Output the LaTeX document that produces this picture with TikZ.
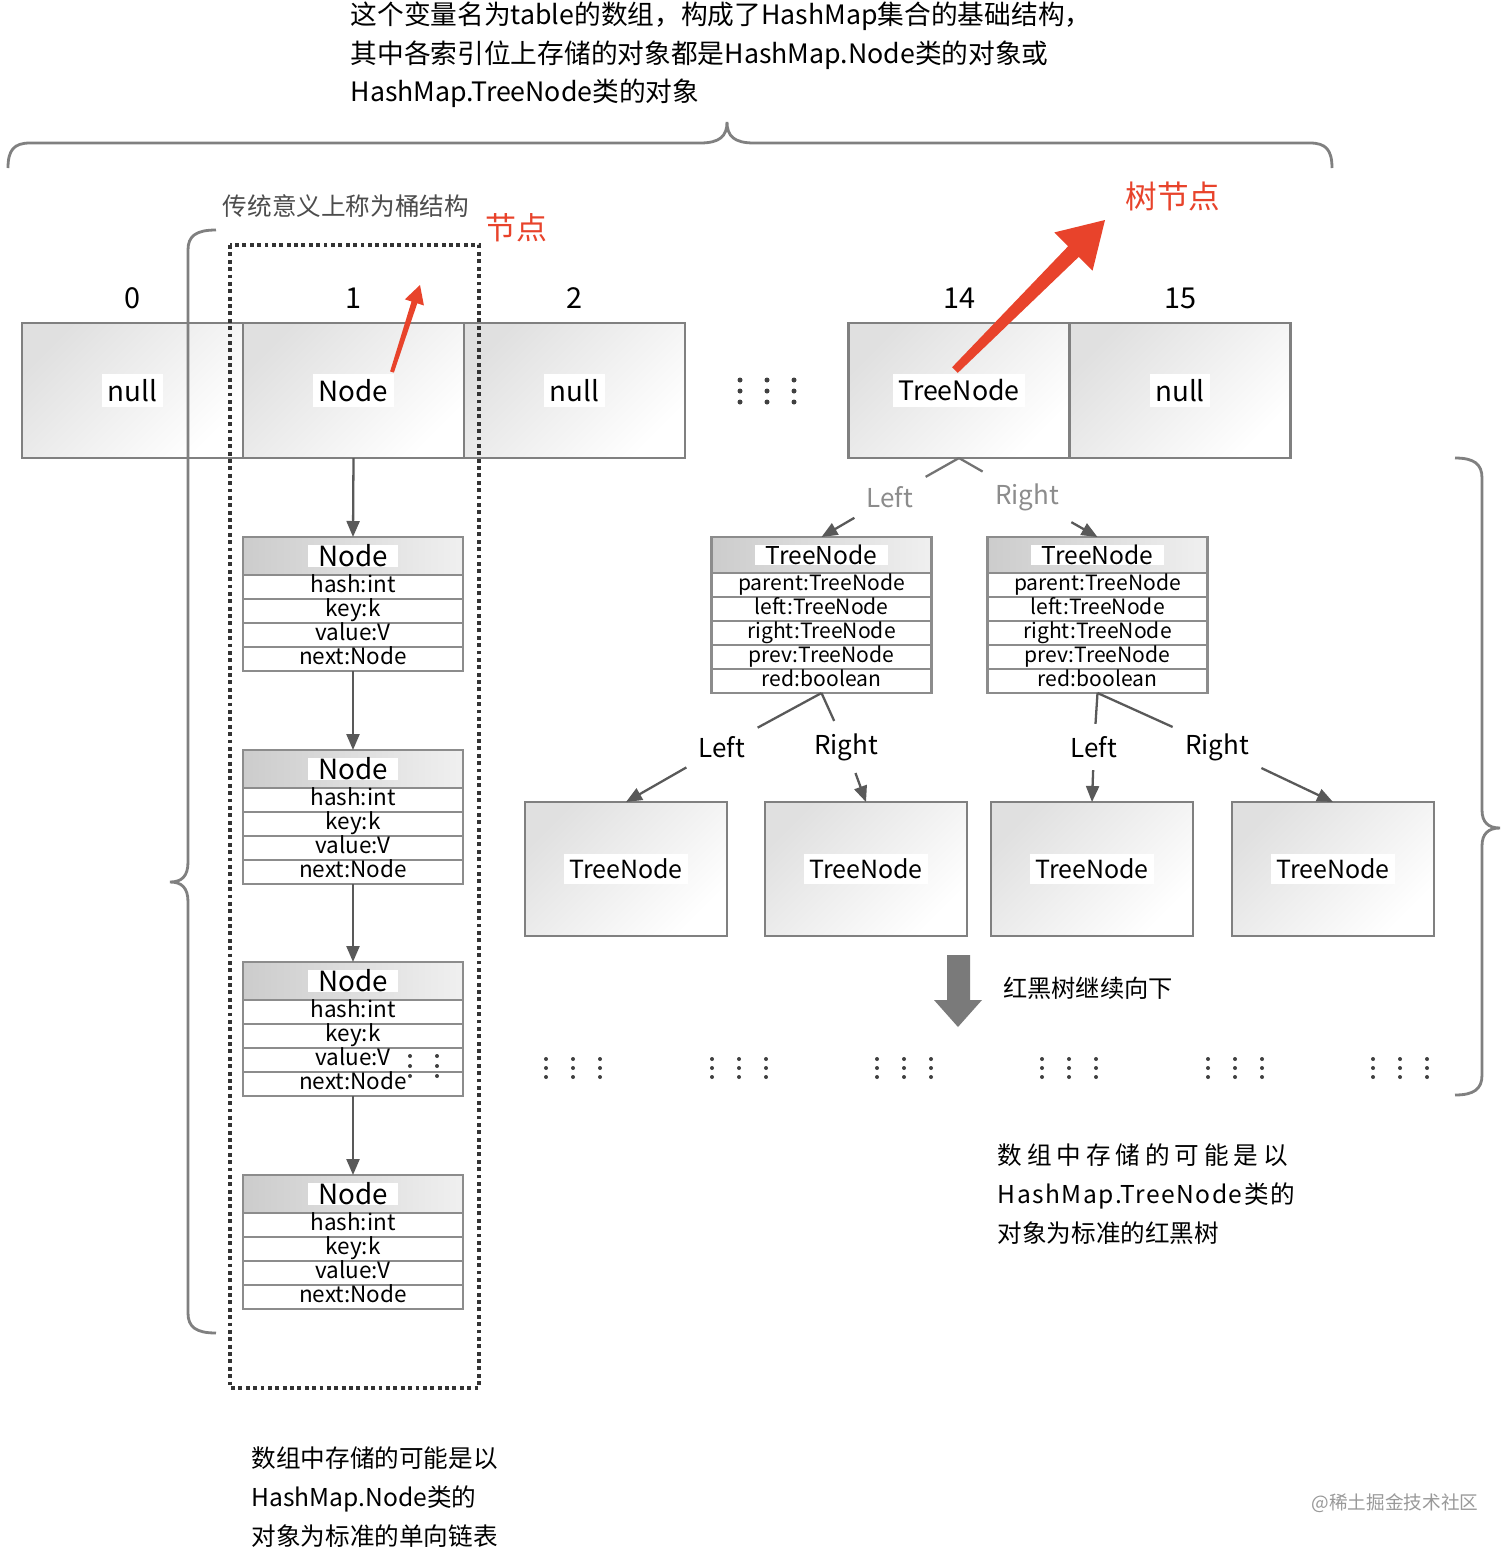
\documentclass[tikz,border=0pt]{standalone}
\usepackage{fontspec}
\setmainfont{Noto Sans CJK SC}
\newfontfamily\spacedA[LetterSpace=20]{Noto Sans CJK SC}
\newfontfamily\spacedB[LetterSpace=6]{Noto Sans CJK SC}
\usetikzlibrary{positioning,arrows.meta,calc}
\definecolor{hlred}{HTML}{E8432B}

\begin{document}
\begin{tikzpicture}[
  x=0.1mm, y=-0.1mm,
  font=\fontsize{7.4}{10.95}\selectfont,
  cell/.style={draw=black!50, line width=0.8pt, outer sep=0pt, inner sep=0pt,
    top color=black!12, middle color=black!3, bottom color=white, shading angle=45,
    minimum width=22.1mm, minimum height=13.5mm},
  leaf/.style={cell, minimum width=20.2mm, minimum height=13.4mm},
  tag/.style={fill=white, inner sep=1.5pt, font=\fontsize{7.9}{10}\selectfont},
  hdr/.style={draw=black!45, line width=0.6pt, outer sep=0pt, inner sep=0pt,
    left color=black!20, right color=black!6, minimum width=22mm, minimum height=3.8mm},
  htag/.style={fill=white, inner xsep=3pt, inner ysep=0pt, font=\fontsize{7.9}{9}\selectfont},
  fld/.style={draw=black!45, line width=0.6pt, fill=white, outer sep=0pt, inner sep=0pt,
    minimum width=22mm, minimum height=2.4mm, text height=4.6pt, text depth=1.3pt,
    font=\fontsize{6.4}{7}\selectfont},
  tfld/.style={fld, font=\fontsize{6}{7}\selectfont},
  idx/.style={font=\fontsize{8.2}{9}\selectfont},
  side/.style={font=\fontsize{7.4}{9}\selectfont},
  arr/.style={-{Triangle[length=1.6mm,width=1.3mm]}, line width=0.65pt, black!65},
  link/.style={line width=0.65pt, black!65},
  brace/.style={line width=0.8pt, black!50},
  note/.style={align=left, inner sep=0pt, font=\fontsize{7}{11}\selectfont}
]
\useasboundingbox (0,0) rectangle (1512,1551);
\fill[white] (0,0) rectangle (1512,1551);

% ---- caption on top ----
\node[note, font=\fontsize{7.6}{10.95}\selectfont, anchor=west] (title) at (350,55)
  {这个变量名为table的数组，构成了HashMap集合的基础结构，\\
   其中各索引位上存储的对象都是HashMap.Node类的对象或\\
   HashMap.TreeNode类的对象};
\draw[brace] (8,168) .. controls (8,150) and (14,143) .. (30,143) -- (700,143)
  .. controls (720,143) and (727,136) .. (727,122)
  .. controls (727,136) and (734,143) .. (754,143) -- (1310,143)
  .. controls (1326,143) and (1332,150) .. (1332,168);

% ---- table cells ----
\node[cell] (c0) at (132.5,390.5) {};
\node[cell, right=0pt of c0] (c1) {};
\node[cell, right=0pt of c1] (c2) {};
\node[cell] (c14) at (959,390.5) {};
\node[cell, right=0pt of c14] (c15) {};
\node[tag] (c0t) at (c0) {null};
\node[tag] (c1t) at (c1) {Node};
\node[tag] (c2t) at (c2) {null};
\node[tag, font=\fontsize{7.6}{9}\selectfont] (c14t) at (c14) {TreeNode};
\node[tag] (c15t) at (c15) {null};
\node[idx, above=0.2mm of c0] (i0) {0};
\node[idx, above=0.2mm of c1] (i1) {1};
\node[idx, above=0.2mm of c2] (i2) {2};
\node[idx, above=0.2mm of c14] (i14) {14};
\node[idx, above=0.2mm of c15] (i15) {15};
\foreach \dx in {740,767,794}
  \foreach \dy in {380,391,402}
    \fill[black!75] (\dx,\dy) circle[radius=0.25mm];

% ---- bucket: linked list ----
\foreach \i/\y in {1/537,2/750,3/962,4/1175} {
  \node[hdr, anchor=north] (n\i) at (353,\y) {};
  \node[htag] (n\i-t) at (n\i) {Node};
  \node[fld, below=0pt of n\i] (n\i-a) {hash:int};
  \node[fld, below=0pt of n\i-a] (n\i-b) {key:k};
  \node[fld, below=0pt of n\i-b] (n\i-c) {value:V};
  \node[fld, below=0pt of n\i-c] (n\i-d) {next:Node};
}
\draw[arr] (c1.south) -- (n1.north);
\foreach \i/\j in {1/2,2/3,3/4}
  \draw[arr] (n\i-d.south) -- (n\j.north);
\foreach \dx in {410,437}
  \foreach \dy in {1056,1066,1076}
    \fill[black!75] (\dx,\dy) circle[radius=0.2mm];

\draw[densely dotted, line width=1.1pt, black!80] (230,245) rectangle (479,1388);
\draw[brace] (216,230) .. controls (196,230) and (188,236) .. (188,250) -- (188,862)
  .. controls (188,876) and (182,882) .. (170,882)
  .. controls (182,882) and (188,888) .. (188,902) -- (188,1313)
  .. controls (188,1327) and (196,1333) .. (216,1333);
\node[text=black!70, font=\fontsize{7}{9}\selectfont] (bucket) at (346,206) {传统意义上称为桶结构};
\node[text=hlred, font=\fontsize{8.8}{10}\selectfont] (nodelbl) at (516,228) {节点};
\coordinate (ra) at (392,372);
\coordinate (rb) at (420,285);
\coordinate (rc) at ($(ra)!0.8!(rb)$);
\fill[hlred, line join=round] ($(ra)!0.2mm!90:(rb)$) -- ($(rc)!0.3mm!90:(rb)$) -- ($(rc)!1mm!90:(rb)$)
  -- (rb) -- ($(rc)!1mm!-90:(rb)$) -- ($(rc)!0.3mm!-90:(rb)$) -- ($(ra)!0.2mm!-90:(rb)$) -- cycle;

% ---- red-black tree ----
\foreach \k/\x in {1/821.5,2/1097.5} {
  \node[hdr, anchor=north, minimum height=3.6mm] (t\k) at (\x,537) {};
  \node[htag, font=\fontsize{7}{9}\selectfont] (t\k-t) at (t\k) {TreeNode};
  \node[tfld, below=0pt of t\k] (t\k-a) {parent:TreeNode};
  \node[tfld, below=0pt of t\k-a] (t\k-b) {left:TreeNode};
  \node[tfld, below=0pt of t\k-b] (t\k-c) {right:TreeNode};
  \node[tfld, below=0pt of t\k-c] (t\k-d) {prev:TreeNode};
  \node[tfld, below=0pt of t\k-d] (t\k-e) {red:boolean};
}
\node[side, text=black!45] (lf0) at (890,497) {Left};
\node[side, text=black!45] (rt0) at (1027,497) {Right};
\draw[link, black!55] (c14.south) -- (lf0);
\draw[link, black!55] (c14.south) -- (rt0);
\draw[arr] (lf0) -- (t1.north);
\draw[arr] (rt0) -- (t2.north);

\node[leaf] (f1) at (626,869) {};
\node[leaf] (f2) at (866,869) {};
\node[leaf] (f3) at (1092,869) {};
\node[leaf] (f4) at (1333,869) {};
\node[tag, font=\fontsize{7.1}{9}\selectfont] (f1t) at (f1) {TreeNode};
\node[tag, font=\fontsize{7.1}{9}\selectfont] (f2t) at (f2) {TreeNode};
\node[tag, font=\fontsize{7.1}{9}\selectfont] (f3t) at (f3) {TreeNode};
\node[tag, font=\fontsize{7.1}{9}\selectfont] (f4t) at (f4) {TreeNode};

\node[side] (lf1) at (722,747) {Left};
\node[side] (rt1) at (846,747) {Right};
\node[side] (lf2) at (1094,747) {Left};
\node[side] (rt2) at (1217,747) {Right};
\draw[link] (t1-e.south) -- (lf1);
\draw[link] (t1-e.south) -- (rt1);
\draw[link] (t2-e.south) -- (lf2);
\draw[link] (t2-e.south) -- (rt2);
\draw[arr] (lf1) -- (f1.north);
\draw[arr] (rt1) -- (f2.north);
\draw[arr] (lf2) -- (f3.north);
\draw[arr] (rt2) -- (f4.north);

\node[text=hlred, font=\fontsize{9}{10}\selectfont] (treelbl) at (1173,196) {树节点};
\coordinate (ta) at (955,370);
\coordinate (tb) at (1105,220);
\coordinate (tc) at ($(ta)!0.79!(tb)$);
\fill[hlred, line join=round] ($(ta)!0.4mm!90:(tb)$) -- ($(tc)!0.75mm!90:(tb)$) -- ($(tc)!2.7mm!90:(tb)$)
  -- (tb) -- ($(tc)!2.7mm!-90:(tb)$) -- ($(tc)!0.75mm!-90:(tb)$) -- ($(ta)!0.4mm!-90:(tb)$) -- cycle;

% ---- going further down ----
\fill[black!52] (947,955) -- (970,955) -- (970,1000) -- (982,1000) -- (958,1027)
  -- (934,1000) -- (947,1000) -- cycle;
\node[font=\fontsize{6.9}{9}\selectfont] (more) at (1088,988) {红黑树继续向下};
\foreach \gx in {573,739,904,1069,1235,1400}
  \foreach \dx in {-27,0,27}
    \foreach \dy in {-9,0,9}
      \fill[black!75] (\gx+\dx,1068+\dy) circle[radius=0.2mm];
\draw[brace] (1455,458) .. controls (1474,458) and (1482,464) .. (1482,478) -- (1482,810)
  .. controls (1482,822) and (1488,828) .. (1500,828)
  .. controls (1488,828) and (1482,834) .. (1482,846) -- (1482,1075)
  .. controls (1482,1089) and (1474,1095) .. (1455,1095);

% ---- notes ----
\node[note, anchor=west] (listnote) at (251,1497)
  {数组中存储的可能是以\\HashMap.Node类的\\对象为标准的单向链表};
\node[note, anchor=west, font=\fontsize{7}{11.1}\selectfont] (treenote) at (997,1194)
  {{\spacedA 数组中存储的可能是以}\\{\spacedB HashMap.TreeNode类的}\\对象为标准的红黑树};
\node[text=black!40, font=\fontsize{5.3}{7}\selectfont] (wm) at (1395,1503) {@稀土掘金技术社区};
\end{tikzpicture}
\end{document}
